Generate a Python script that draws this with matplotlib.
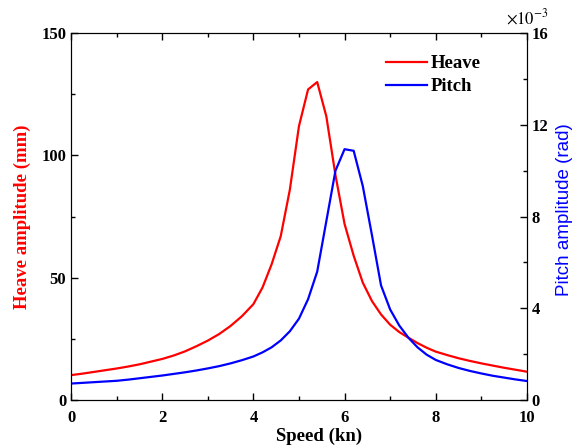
import matplotlib
matplotlib.use("Agg")
from matplotlib import pyplot as plt
from matplotlib.ticker import MultipleLocator

# speed (kn)
speed = [0, 0.25, 0.5, 0.75, 1.0, 1.25, 1.5, 1.75, 2.0, 2.25, 2.5, 2.75, 3.0, 3.25,
         3.5, 3.75, 4.0, 4.2, 4.4, 4.6, 4.8, 5.0, 5.2, 5.4, 5.6, 5.8, 6.0, 6.2,
         6.4, 6.6, 6.8, 7.0, 7.2, 7.4, 7.6, 7.8, 8.0, 8.25, 8.5, 8.75, 9.0, 9.25,
         9.5, 9.75, 10.0]
# heave amplitude (mm)
heave = [10.2, 10.8, 11.5, 12.2, 12.9, 13.7, 14.6, 15.7, 16.8, 18.2, 19.9, 22.0,
         24.3, 27.0, 30.3, 34.3, 39.2, 46.0, 55.5, 67.0, 86.0, 112.0, 127.0, 130.0,
         116.0, 92.0, 72.0, 59.0, 48.0, 40.5, 35.0, 30.8, 27.8, 25.5, 23.3, 21.4,
         19.8, 18.4, 17.1, 16.0, 15.0, 14.1, 13.2, 12.4, 11.6]
# pitch amplitude (x1e-3 rad)
pitch = [0.72, 0.75, 0.78, 0.81, 0.84, 0.89, 0.95, 1.01, 1.07, 1.14, 1.21, 1.29,
         1.38, 1.48, 1.60, 1.74, 1.90, 2.08, 2.30, 2.60, 3.0, 3.55, 4.4, 5.6, 7.8,
         10.0, 10.94, 10.87, 9.33, 7.2, 5.0, 3.95, 3.25, 2.72, 2.30, 1.98, 1.75,
         1.56, 1.40, 1.27, 1.16, 1.06, 0.98, 0.90, 0.83]

serif = ["Liberation Serif", "DejaVu Serif"]
plt.rcParams["mathtext.fontset"] = "stix"

fig = plt.figure(figsize=(5.74, 4.48), dpi=100)
ax = fig.add_axes([0.1237, 0.107, 0.7943, 0.819])
ax2 = ax.twinx()

l1, = ax.plot(speed, heave, color="red", linewidth=1.6)
l2, = ax2.plot(speed, pitch, color="blue", linewidth=1.6)

ax.set_xlim(0, 10)
ax.set_ylim(0, 150)
ax2.set_ylim(0, 16)

ax.xaxis.set_major_locator(MultipleLocator(2))
ax.xaxis.set_minor_locator(MultipleLocator(1))
ax.yaxis.set_major_locator(MultipleLocator(50))
ax.yaxis.set_minor_locator(MultipleLocator(25))
ax2.yaxis.set_major_locator(MultipleLocator(4))
ax2.yaxis.set_minor_locator(MultipleLocator(2))

ax.tick_params(axis="both", which="both", direction="in", top=True)
ax.tick_params(which="major", length=5, width=1)
ax.tick_params(which="minor", length=3, width=1)
ax.tick_params(axis="x", which="major", pad=7)
ax2.tick_params(which="both", direction="in")
ax2.tick_params(which="major", length=5, width=1)
ax2.tick_params(which="minor", length=3, width=1)

for lab in ax.get_xticklabels() + ax.get_yticklabels() + ax2.get_yticklabels():
    lab.set_fontfamily(serif)
    lab.set_fontweight("bold")
    lab.set_fontsize(12)

# exponent above the right axis
ax2.text(1.0, 1.013, r"$\times10^{-3}$", transform=ax2.transAxes, ha="center",
         va="bottom", fontsize=12, family=serif)

ax.set_xlabel("Speed (kn)", family=serif, fontweight="bold", fontsize=13.5)
ax.xaxis.set_label_coords(0.543, -0.075)
ax.set_ylabel("Heave amplitude (mm)", family=serif, fontweight="bold", fontsize=13.5,
              color="red", labelpad=7)
ax2.set_ylabel("Pitch amplitude (rad)", family="Liberation Sans", fontsize=13.5,
               color="blue")
ax2.yaxis.set_label_coords(1.064, 0.518)

ax2.legend([l1, l2], ["Heave", "Pitch"], loc="upper right", bbox_to_anchor=(0.915, 0.96),
           frameon=False, handlelength=2.2, handletextpad=0.2, labelspacing=0.3,
           borderaxespad=0, prop={"family": serif, "weight": "bold", "size": 13.5})

fig.savefig("out.png", dpi=100)
